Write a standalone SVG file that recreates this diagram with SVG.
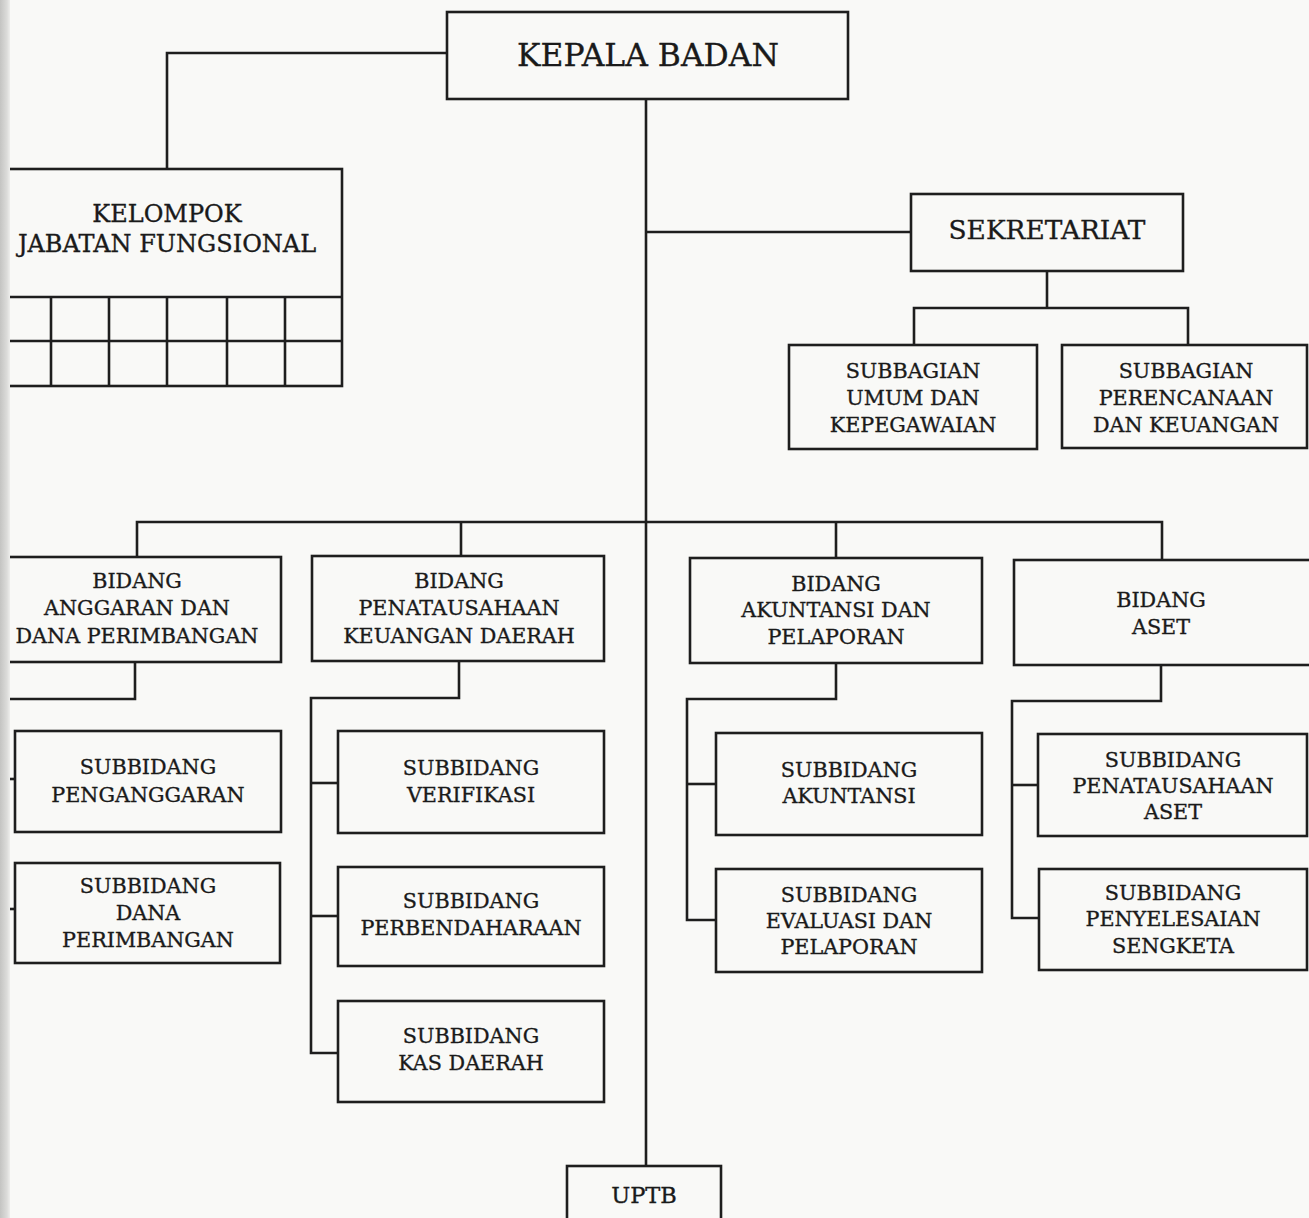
<svg xmlns="http://www.w3.org/2000/svg" width="1309" height="1218" viewBox="0 0 1309 1218">
<defs>
<style>
.box{fill:none;stroke:#1e1e1e;stroke-width:2.6}
.ln{fill:none;stroke:#1e1e1e;stroke-width:2.6}
.t{font-family:"DejaVu Serif","Liberation Serif",serif;fill:#1a1a1a;stroke:#1a1a1a;stroke-width:0.35;text-anchor:middle;font-size:20.7px}
.big{font-size:31.4px}
.mid{font-size:24px}
.sek{font-size:26.4px}
.up{font-size:22.5px}
</style>
<linearGradient id="edge" x1="0" y1="0" x2="1" y2="0">
<stop offset="0" stop-color="#c4c4c2"/>
<stop offset="0.7" stop-color="#dcdcda"/>
<stop offset="1" stop-color="#eeeeec"/>
</linearGradient>
</defs>
<rect x="0" y="0" width="1309" height="1218" fill="#f9f9f7"/>

<g id="connectors">
<polyline class="ln" points="646,99 646,1166"/>
<polyline class="ln" points="447,53 167,53 167,169"/>
<polyline class="ln" points="646,232 911,232"/>
<polyline class="ln" points="1047,271 1047,308"/>
<polyline class="ln" points="914,345 914,308 1188,308 1188,345"/>
<polyline class="ln" points="137,557 137,522 1162,522 1162,560"/>
<polyline class="ln" points="461,522 461,556"/>
<polyline class="ln" points="836,522 836,558"/>
<polyline class="ln" points="135,662 135,699 -4,699"/>
<polyline class="ln" points="-4,779 15,779"/>
<polyline class="ln" points="-4,909 15,909"/>
<polyline class="ln" points="459,661 459,698 311,698 311,1053 338,1053"/>
<polyline class="ln" points="311,783 338,783"/>
<polyline class="ln" points="311,916 338,916"/>
<polyline class="ln" points="836,663 836,699 687,699 687,920 716,920"/>
<polyline class="ln" points="687,784 716,784"/>
<polyline class="ln" points="1161,665 1161,701 1012,701 1012,918 1038,918"/>
<polyline class="ln" points="1012,785 1038,785"/>
</g>

<g id="kepala-badan">
<rect class="box" x="447" y="12" width="401" height="87"/>
<text class="t big" x="648" y="66">KEPALA BADAN</text>
</g>

<g id="kelompok-jabatan-fungsional">
<rect class="box" x="-10" y="169" width="352" height="217"/>
<line class="ln" x1="-10" y1="297" x2="342" y2="297"/>
<line class="ln" x1="-10" y1="341" x2="342" y2="341"/>
<line class="ln" x1="51" y1="297" x2="51" y2="386"/>
<line class="ln" x1="109" y1="297" x2="109" y2="386"/>
<line class="ln" x1="167" y1="297" x2="167" y2="386"/>
<line class="ln" x1="227" y1="297" x2="227" y2="386"/>
<line class="ln" x1="285" y1="297" x2="285" y2="386"/>
<text class="t mid" x="167" y="222">KELOMPOK</text>
<text class="t mid" x="167" y="252">JABATAN FUNGSIONAL</text>
</g>

<g id="sekretariat">
<rect class="box" x="911" y="194" width="272" height="77"/>
<text class="t sek" x="1047" y="239">SEKRETARIAT</text>
</g>

<g id="subbagian-umum">
<rect class="box" x="789" y="345" width="248" height="104"/>
<text class="t" x="913" y="378">SUBBAGIAN</text>
<text class="t" x="913" y="405">UMUM DAN</text>
<text class="t" x="913" y="432">KEPEGAWAIAN</text>
</g>

<g id="subbagian-perencanaan">
<rect class="box" x="1062" y="345" width="245" height="103"/>
<text class="t" x="1186" y="378">SUBBAGIAN</text>
<text class="t" x="1186" y="405">PERENCANAAN</text>
<text class="t" x="1186" y="432">DAN KEUANGAN</text>
</g>

<g id="bidang-anggaran">
<rect class="box" x="-10" y="557" width="291" height="105"/>
<text class="t" x="137" y="588">BIDANG</text>
<text class="t" x="137" y="615">ANGGARAN DAN</text>
<text class="t" x="137" y="643">DANA PERIMBANGAN</text>
</g>

<g id="subbidang-penganggaran">
<rect class="box" x="15" y="731" width="266" height="101"/>
<text class="t" x="148" y="774">SUBBIDANG</text>
<text class="t" x="148" y="802">PENGANGGARAN</text>
</g>

<g id="subbidang-dana-perimbangan">
<rect class="box" x="15" y="863" width="265" height="100"/>
<text class="t" x="148" y="893">SUBBIDANG</text>
<text class="t" x="148" y="920">DANA</text>
<text class="t" x="148" y="947">PERIMBANGAN</text>
</g>

<g id="bidang-penatausahaan">
<rect class="box" x="312" y="556" width="292" height="105"/>
<text class="t" x="459" y="588">BIDANG</text>
<text class="t" x="459" y="615">PENATAUSAHAAN</text>
<text class="t" x="459" y="643">KEUANGAN DAERAH</text>
</g>

<g id="subbidang-verifikasi">
<rect class="box" x="338" y="731" width="266" height="102"/>
<text class="t" x="471" y="775">SUBBIDANG</text>
<text class="t" x="471" y="802">VERIFIKASI</text>
</g>

<g id="subbidang-perbendaharaan">
<rect class="box" x="338" y="867" width="266" height="99"/>
<text class="t" x="471" y="908">SUBBIDANG</text>
<text class="t" x="471" y="935">PERBENDAHARAAN</text>
</g>

<g id="subbidang-kas-daerah">
<rect class="box" x="338" y="1001" width="266" height="101"/>
<text class="t" x="471" y="1043">SUBBIDANG</text>
<text class="t" x="471" y="1070">KAS DAERAH</text>
</g>

<g id="bidang-akuntansi">
<rect class="box" x="690" y="558" width="292" height="105"/>
<text class="t" x="836" y="591">BIDANG</text>
<text class="t" x="836" y="617">AKUNTANSI DAN</text>
<text class="t" x="836" y="644">PELAPORAN</text>
</g>

<g id="subbidang-akuntansi">
<rect class="box" x="716" y="733" width="266" height="102"/>
<text class="t" x="849" y="777">SUBBIDANG</text>
<text class="t" x="849" y="803">AKUNTANSI</text>
</g>

<g id="subbidang-evaluasi">
<rect class="box" x="716" y="869" width="266" height="103"/>
<text class="t" x="849" y="902">SUBBIDANG</text>
<text class="t" x="849" y="928">EVALUASI DAN</text>
<text class="t" x="849" y="954">PELAPORAN</text>
</g>

<g id="bidang-aset">
<rect class="box" x="1014" y="560" width="300" height="105"/>
<text class="t" x="1161" y="607">BIDANG</text>
<text class="t" x="1161" y="634">ASET</text>
</g>

<g id="subbidang-penatausahaan-aset">
<rect class="box" x="1038" y="734" width="269" height="102"/>
<text class="t" x="1173" y="767">SUBBIDANG</text>
<text class="t" x="1173" y="793">PENATAUSAHAAN</text>
<text class="t" x="1173" y="819">ASET</text>
</g>

<g id="subbidang-penyelesaian-sengketa">
<rect class="box" x="1039" y="869" width="268" height="101"/>
<text class="t" x="1173" y="900">SUBBIDANG</text>
<text class="t" x="1173" y="926">PENYELESAIAN</text>
<text class="t" x="1173" y="953">SENGKETA</text>
</g>

<g id="uptb">
<rect class="box" x="567" y="1166" width="154" height="60"/>
<text class="t up" x="644" y="1203">UPTB</text>
</g>

<rect x="0" y="0" width="10" height="1218" fill="url(#edge)"/>
</svg>
